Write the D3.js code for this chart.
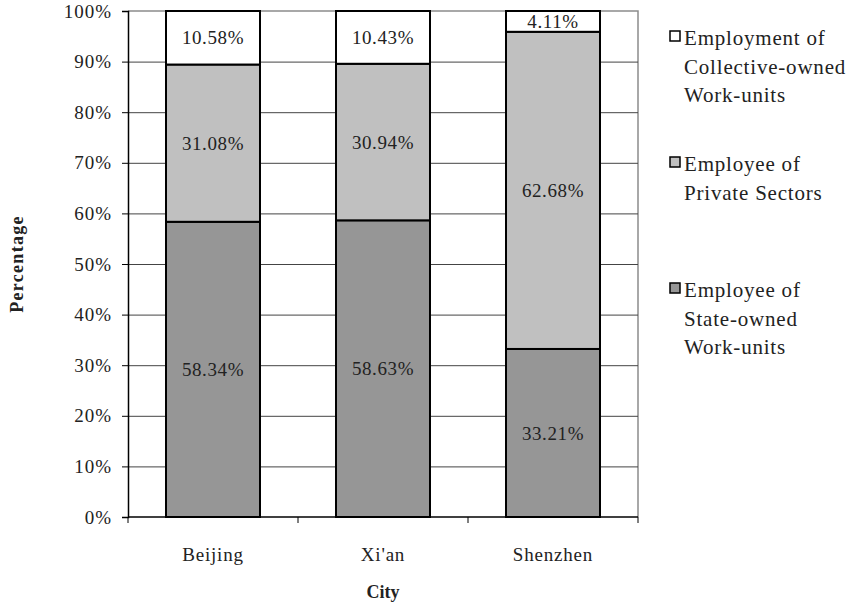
<!DOCTYPE html>
<html>
<head>
<meta charset="utf-8">
<script src="https://cdn.jsdelivr.net/npm/d3@7"></script>
<style>
  html, body { margin: 0; padding: 0; background: #fff; }
  svg text { font-family: "Liberation Serif", "DejaVu Serif", serif !important; }
</style>
</head>
<body>
<svg id="chart" width="850" height="606"></svg>
<script>
// Employment structure by city (share of each employer type, %)
const cities = ["Beijing", "Xi'an", "Shenzhen"];
const stateOwned = [58.34, 58.63, 33.21];
const privateSector = [31.08, 30.94, 62.68];
const collectiveOwned = [10.58, 10.43, 4.11];
const yTicks = [0, 10, 20, 30, 40, 50, 60, 70, 80, 90, 100];

const seriesColors = ["#969696", "#c0c0c0", "#ffffff"];
const legendLines = [
  ["Employment of", "Collective-owned", "Work-units"],
  ["Employee of", "Private Sectors"],
  ["Employee of", "State-owned", "Work-units"]
];
const legendColors = ["#ffffff", "#c0c0c0", "#969696"];

const rows = cities.map((c, i) => ({ city: c, s0: stateOwned[i], s1: privateSector[i], s2: collectiveOwned[i] }));
const stack = d3.stack().keys(["s0", "s1", "s2"])(rows);

const svg = d3.select("#chart");
const plot = { left: 128, right: 638, top: 11, bottom: 517 };
const textColor = "#222";

const x = d3.scaleBand().domain(cities).range([plot.left, plot.right]).paddingInner(76 / 170).paddingOuter(38 / 170);
const xOuter = d3.scaleBand().domain(cities).range([plot.left, plot.right]);
const y = d3.scaleLinear().domain([0, 100]).range([plot.bottom, plot.top]);

// plot frame: grey top/right
svg.append("path")
  .attr("d", `M${plot.left},${plot.top}H${plot.right}V${plot.bottom}`)
  .attr("fill", "none").attr("stroke", "#8c8c8c").attr("stroke-width", 1.5);

// horizontal gridlines
svg.append("g").selectAll("line").data(yTicks.filter(t => t > 0 && t < 100)).join("line")
  .attr("x1", plot.left).attr("x2", plot.right)
  .attr("y1", d => y(d) + 0.5).attr("y2", d => y(d) + 0.5)
  .attr("stroke", "#444").attr("stroke-width", 1);

// y axis
const yAxis = svg.append("g").attr("transform", `translate(${plot.left},0)`)
  .call(d3.axisLeft(y).tickValues(yTicks).tickFormat(d => d + "%").tickSize(6).tickPadding(10));
yAxis.select(".domain").attr("stroke", "#000").attr("stroke-width", 1.5);
yAxis.selectAll(".tick line").attr("stroke", "#000");
yAxis.selectAll("text").attr("font-size", 19).attr("letter-spacing", 1).attr("fill", textColor);

// bars
const layers = svg.append("g").selectAll("g").data(stack).join("g")
  .attr("fill", (d, i) => seriesColors[i]);
layers.selectAll("rect").data(d => d).join("rect")
  .attr("x", d => x(d.data.city))
  .attr("width", x.bandwidth())
  .attr("y", d => y(d[1]))
  .attr("height", d => y(d[0]) - y(d[1]))
  .attr("stroke", "#000").attr("stroke-width", 2);

// value labels
const valueFmt = d3.format(".2f");
stack.forEach(layer => {
  svg.append("g").selectAll("text").data(layer).join("text")
    .attr("x", d => x(d.data.city) + x.bandwidth() / 2)
    .attr("y", d => (y(d[0]) + y(d[1])) / 2)
    .attr("dy", "0.35em")
    .attr("text-anchor", "middle")
    .attr("font-size", 19).attr("letter-spacing", 0.6)
    .attr("fill", textColor)
    .text(d => valueFmt(d[1] - d[0]) + "%");
});

// x axis
const xAxisG = svg.append("g").attr("transform", `translate(0,${plot.bottom})`);
xAxisG.append("line").attr("x1", plot.left).attr("x2", plot.right)
  .attr("stroke", "#000").attr("stroke-width", 1.5);
const xTickPos = cities.map(c => xOuter(c)).concat([plot.right]);
xAxisG.selectAll("line.tk").data(xTickPos).join("line").attr("class", "tk")
  .attr("x1", d => d).attr("x2", d => d).attr("y1", 0).attr("y2", 6)
  .attr("stroke", "#000");
xAxisG.selectAll("text").data(cities).join("text")
  .attr("x", d => x(d) + x.bandwidth() / 2)
  .attr("y", 44)
  .attr("text-anchor", "middle")
  .attr("font-size", 19).attr("letter-spacing", 0.8).attr("fill", textColor)
  .text(d => d);

// axis titles
svg.append("text").attr("x", 383).attr("y", 598).attr("text-anchor", "middle")
  .attr("font-size", 18).attr("font-weight", "bold").attr("fill", textColor).text("City");
svg.append("text").attr("transform", "translate(23,264) rotate(-90)").attr("text-anchor", "middle")
  .attr("font-size", 18).attr("font-weight", "bold").attr("letter-spacing", 1.3)
  .attr("fill", textColor).text("Percentage");

// legend
const legendBaselines = [45, 171, 297];
const legend = svg.append("g");
legendLines.forEach((lines, i) => {
  const g = legend.append("g").attr("transform", `translate(670,${legendBaselines[i]})`);
  g.append("rect").attr("y", -14).attr("width", 10).attr("height", 10)
    .attr("fill", legendColors[i]).attr("stroke", "#000").attr("stroke-width", 1.5);
  g.selectAll("text").data(lines).join("text")
    .attr("x", 14).attr("y", (d, j) => j * 28.5)
    .attr("font-size", 21).attr("letter-spacing", 0.8).attr("fill", textColor)
    .text(d => d);
});
</script>
</body>
</html>
